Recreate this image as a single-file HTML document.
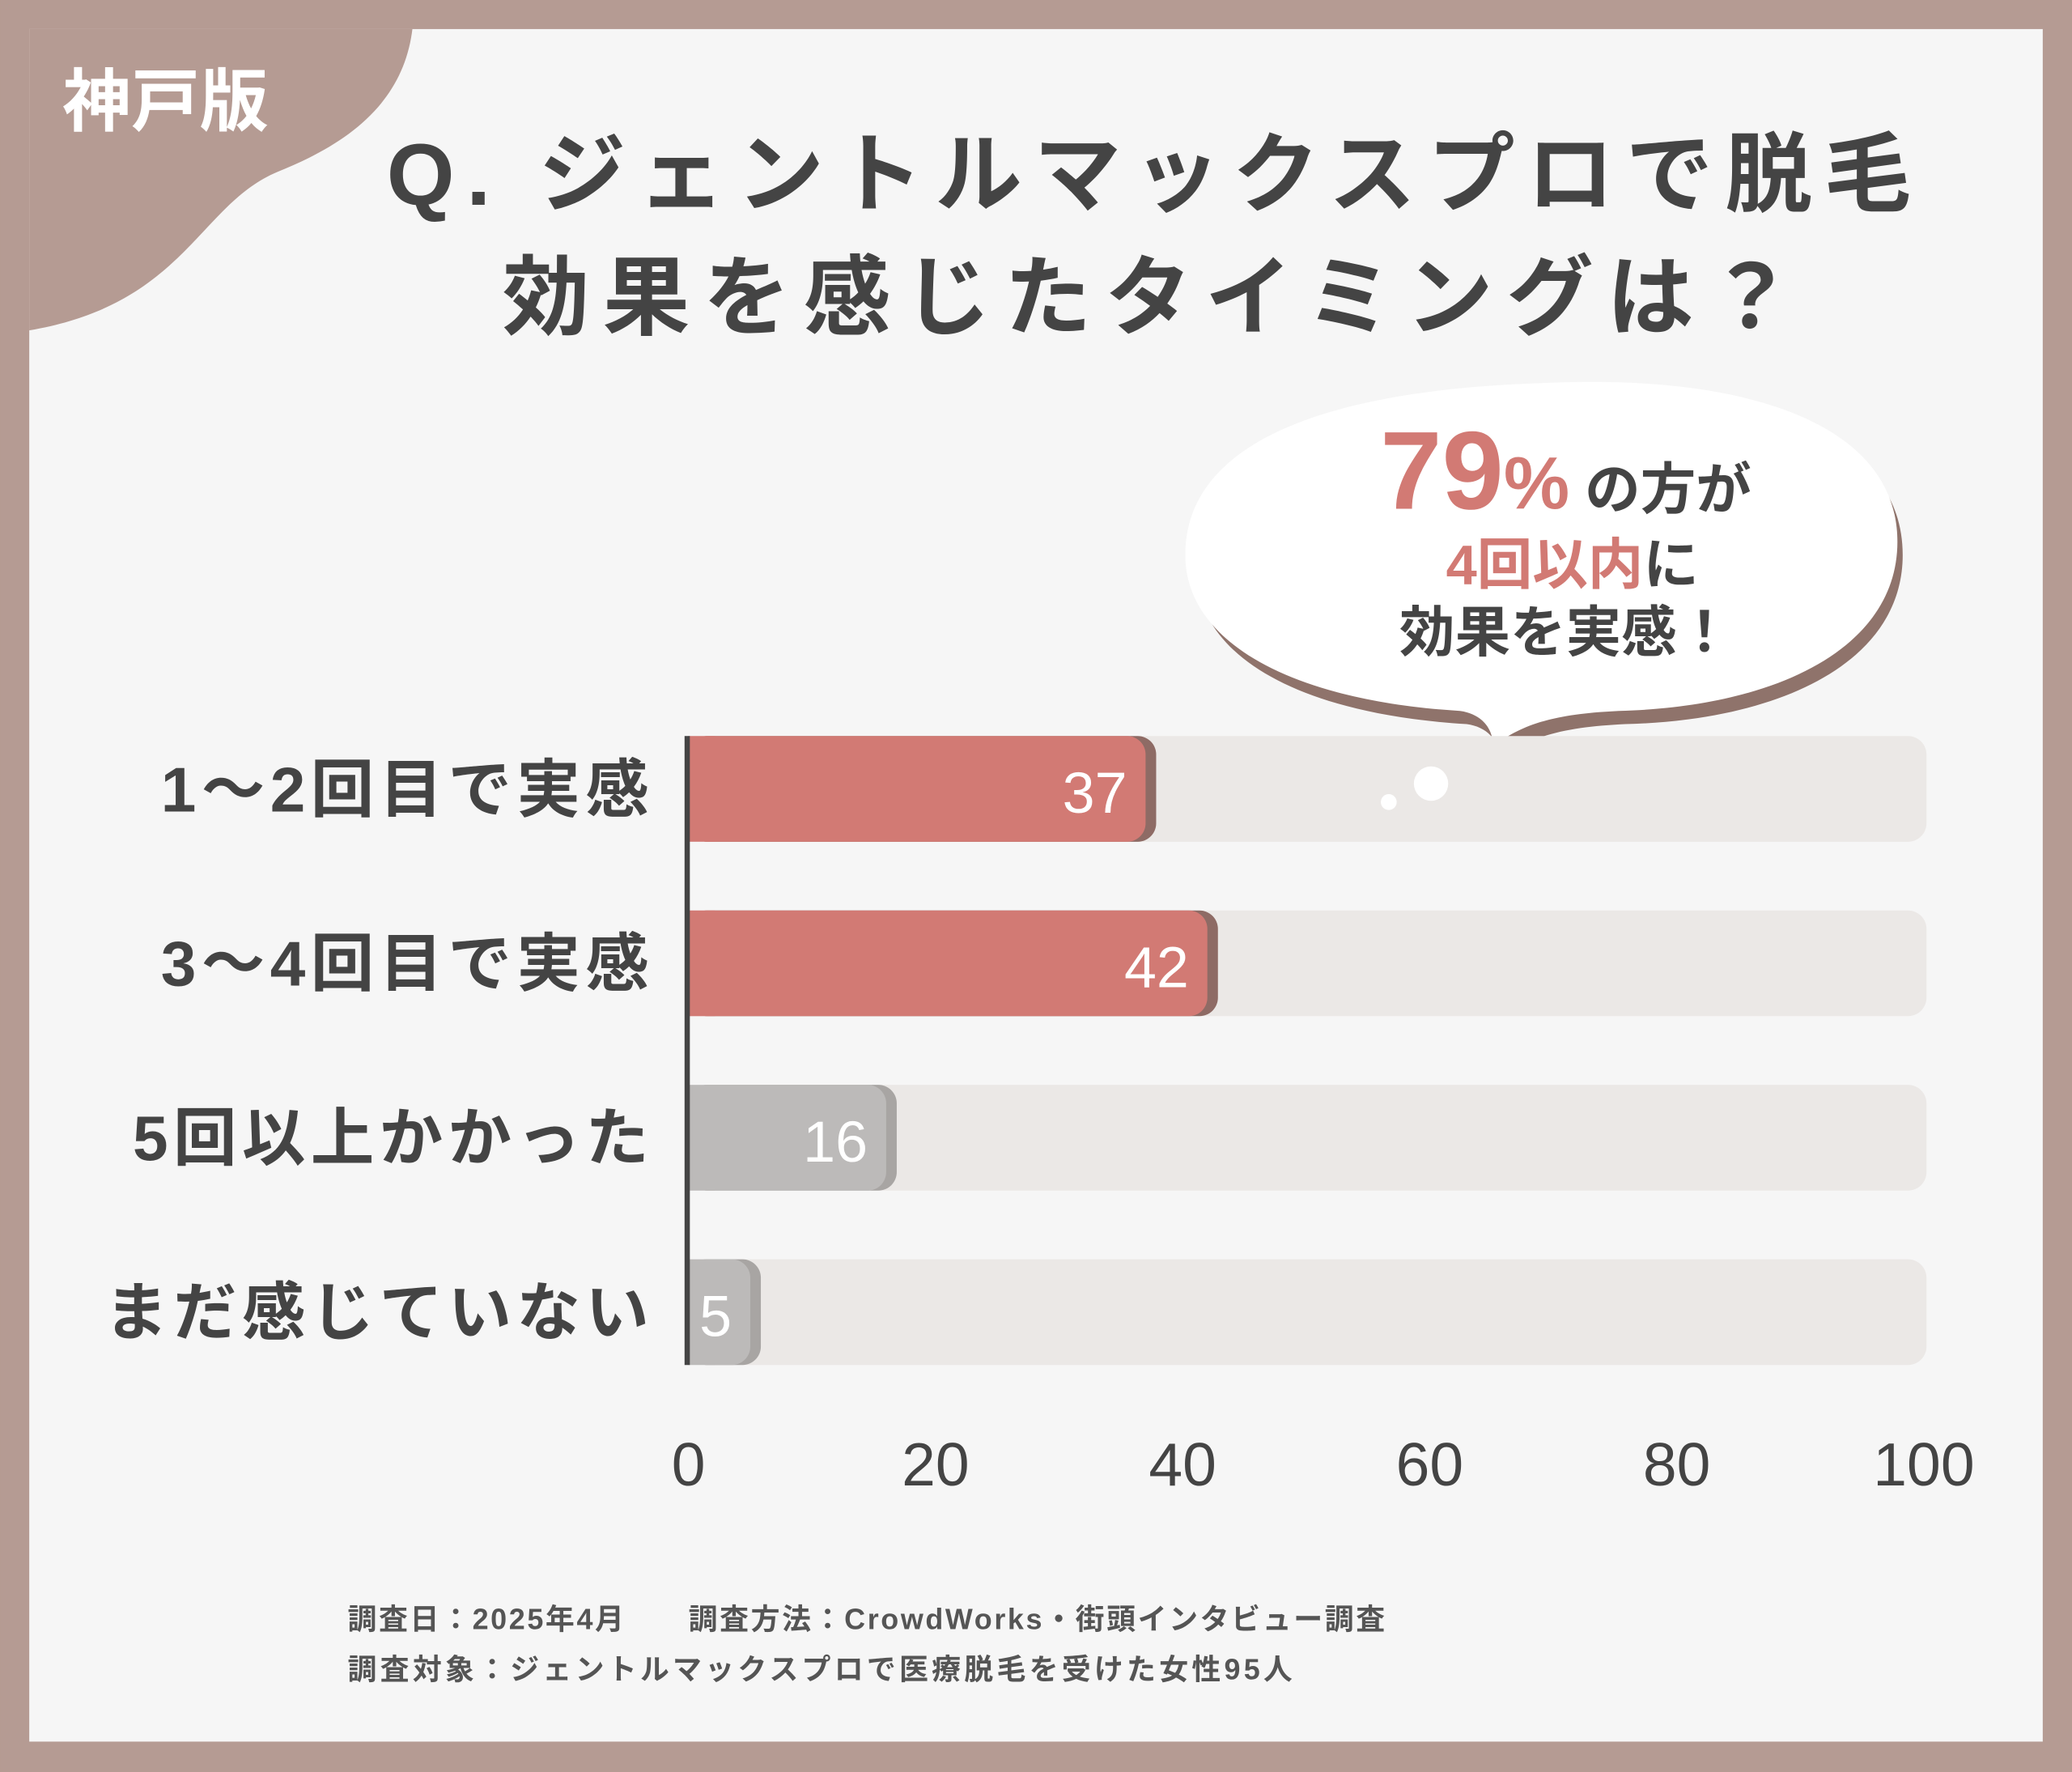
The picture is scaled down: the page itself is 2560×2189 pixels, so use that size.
<!DOCTYPE html>
<html><head><meta charset="utf-8"><style>
html,body{margin:0;padding:0;background:#b59b93;}
svg{display:block;}
text{font-family:"Liberation Sans","Noto Sans CJK JP",sans-serif;}
</style></head><body>
<svg id="chart" width="2560" height="2189" viewBox="0 0 1568 1341" xmlns="http://www.w3.org/2000/svg">
<rect x="0" y="0" width="1568" height="1341" fill="#b59b93"/>
<rect x="22" y="22" width="1524" height="1296" fill="#f6f6f6"/>
<path d="M22 22 H312 C305 80 260 110 210 130 C150 155 140 230 22 250 Z" fill="#b59b93"/>
<text x="125" y="95" font-size="52" font-weight="700" fill="#fff" text-anchor="middle">神戸版</text>
<text x="874" y="155" font-size="66" font-weight="700" fill="#444" text-anchor="middle" letter-spacing="9">Q. ジェントルマックスプロで脱毛</text>
<text x="874" y="248" font-size="66" font-weight="700" fill="#444" text-anchor="middle" letter-spacing="10">効果を感じたタイミングは？</text>
<g>
<path d="M1170 300 C1330 290 1440 330 1440 420 C1440 500 1350 545 1230 548 C1190 550 1160 555 1135 575 C1135 560 1125 550 1110 548 C980 540 905 495 905 430 C905 340 1020 305 1170 300 Z" fill="#8f736b"/>
<path d="M1165 290 C1325 282 1436 322 1436 410 C1436 490 1345 535 1225 538 C1185 540 1155 545 1130 565 C1130 550 1120 540 1105 538 C975 530 897 485 897 420 C897 330 1015 295 1165 290 Z" fill="#fff"/>
<text x="1185" y="385" text-anchor="middle" fill="#444" font-size="42" font-weight="700"><tspan fill="#d27a74" font-size="84">79</tspan><tspan fill="#d27a74" font-size="56">%</tspan> の方が</text>
<text x="1190" y="442" text-anchor="middle" fill="#444" font-size="42" font-weight="700"><tspan fill="#d27a74">4回以内</tspan>に</text>
<text x="1185" y="493" text-anchor="middle" fill="#444" font-size="42" font-weight="700">効果を実感！</text>
</g>
<g id="plot"></g>
<circle cx="1083" cy="593" r="13" fill="#fff"/>
<circle cx="1051" cy="607" r="6" fill="#fff"/>
<text x="263" y="1233" font-size="22" font-weight="700" fill="#555" letter-spacing="1.6">調査日：2025年4月　　調査方法：CrowdWorks・街頭インタビュー調査</text>
<text x="263" y="1271" font-size="22" font-weight="700" fill="#555" letter-spacing="2.6">調査対象：ジェントルマックスプロで医療脱毛を受けた女性95人</text>
</svg>
<script>
const categories = ["1〜2回目で実感","3〜4回目で実感","5回以上かかった","まだ感じていない"];
const values = [37,42,16,5];
const highlight = [true,true,false,false];
const ticks = [0,20,40,60,80,100];
const NS="http://www.w3.org/2000/svg";
const g=document.getElementById('plot');
const x0=521,x1=1456,yTop=557,step=132,bh=80;
const x=v=>x0+(v/100)*(x1-x0);
const y=i=>yTop+i*step;
function mk(t,a){const e=document.createElementNS(NS,t);for(const k in a)e.setAttribute(k,a[k]);g.appendChild(e);return e;}
categories.forEach((c,i)=>{
  const tr=mk('rect',{x:x0,y:y(i),width:x(100)-x0+2,height:bh,rx:14,fill:'#ebe8e6'});
  
  
  const col=highlight[i]?'#d27a74':'#bcbab9', sh=highlight[i]?'#8e6b65':'#a8a5a3';
  const s=mk('rect',{x:x0,y:y(i),width:x(values[i])-x0+8,height:bh,rx:14,fill:sh});
  
  
  const b=mk('rect',{x:x0,y:y(i),width:x(values[i])-x0,height:bh,rx:14,fill:col});
  
  
  const r=mk('rect',{x:x0,y:y(i),width:20,height:bh,fill:col});
  
  
  const vt=mk('text',{x:x(values[i])-14,y:y(i)+58,'font-size':44,fill:'#fff','text-anchor':'end'});
  vt.textContent=values[i];
  
  
  const ct=mk('text',{x:495,y:y(i)+57,'font-size':48,'font-weight':700,fill:'#444','text-anchor':'end','letter-spacing':4});
  ct.textContent=c;
  
  
});
const ax=mk('rect',{x:x0-3,y:yTop,width:4,height:3*step+bh,fill:'#444'});


ticks.forEach(t=>{
  const e=mk('text',{x:x(t),y:1124,'font-size':46,fill:'#444','text-anchor':'middle'});
  e.textContent=t;
  
  
});
</script>
</body></html>
